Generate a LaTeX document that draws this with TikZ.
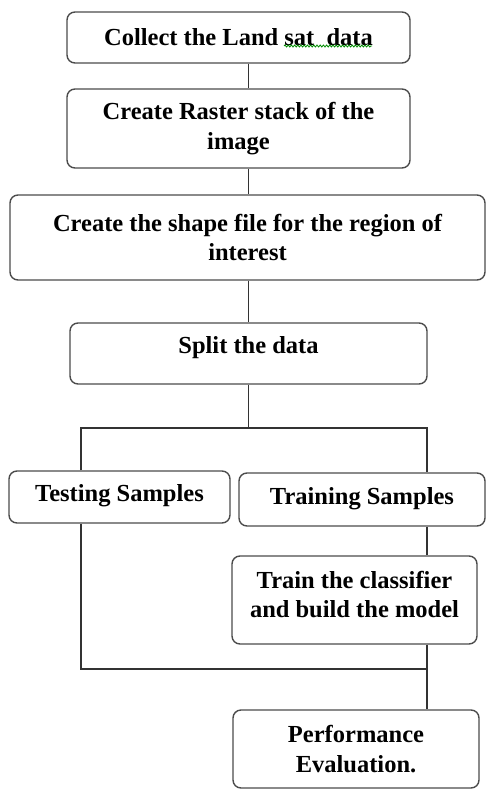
\documentclass[tikz,border=0pt]{standalone}
\usepackage{fontspec}
\setmainfont{Liberation Serif}
\usetikzlibrary{decorations.pathmorphing}
\begin{document}
\begin{tikzpicture}[x=1pt,y=-1pt,
  stepbox/.style={draw=black!70, line width=1.4pt, rounded corners=8pt,
    align=center, inner sep=0pt, font=\fontsize{24.5}{29.5}\selectfont\bfseries},
  link/.style={draw=black!80, line width=1.4pt},
  squiggle/.style={draw=green!55!black, line width=0.8pt,
    decorate, decoration={snake, amplitude=1pt, segment length=3.2pt}}]
\useasboundingbox (0,0) rectangle (486,789);
% process boxes
\node[stepbox, minimum width=343pt, minimum height=51pt] (collect) at (238.5,37.5)
  {Collect the Land sat\ \ data};
\node[stepbox, minimum width=343pt, minimum height=79pt] (raster) at (238.5,128.5)
  {Create Raster stack of the\\image};
\node[stepbox, minimum width=475pt, minimum height=85pt] (shape) at (247.5,237.5)
  {Create the shape file for the region of\\interest};
\node[stepbox, minimum width=357pt, minimum height=61pt, text depth=18pt] (split) at (248.5,353.5)
  {Split the data};
\node[stepbox, minimum width=221pt, minimum height=52pt, text depth=9pt] (test) at (119.5,497)
  {Testing Samples};
\node[stepbox, minimum width=246pt, minimum height=53pt, text depth=8pt] (train) at (362,499.5)
  {Training Samples};
\node[stepbox, minimum width=245pt, minimum height=88pt, text height=50pt, text depth=15pt] (clf) at (354.5,600)
  {\begin{tabular}[b]{@{}c@{}}Train the classifier\\and build the model\end{tabular}};
\node[stepbox, minimum width=246pt, minimum height=78pt] (perf) at (356,749)
  {Performance\\Evaluation.};
% spell-check underline under "sat  data"
\coordinate (sqa) at (284,46);
\coordinate (sqb) at (372,46);
\draw[squiggle] (sqa) -- (sqb);
% guide positions for the connectors
\coordinate (spine) at (248.5,0);
\coordinate (lx) at (81,0);
\coordinate (rx) at (427,0);
\coordinate (fork) at (248.5,428);
\coordinate (merge) at (427,669);
% connectors
\draw[link] (collect.south -| spine) -- (raster.north -| spine);
\draw[link] (raster.south -| spine) -- (shape.north -| spine);
\draw[link] (shape.south -| spine) -- (split.north -| spine);
\draw[link] (split.south -| spine) -- (fork);
\draw[link] (test.north -| lx) |- (fork) -| (train.north -| rx);
\draw[link] (train.south -| rx) -- (clf.north -| rx);
\draw[link] (test.south -| lx) |- (merge);
\draw[link] (clf.south -| rx) -- (perf.north -| rx);
\end{tikzpicture}
\end{document}
